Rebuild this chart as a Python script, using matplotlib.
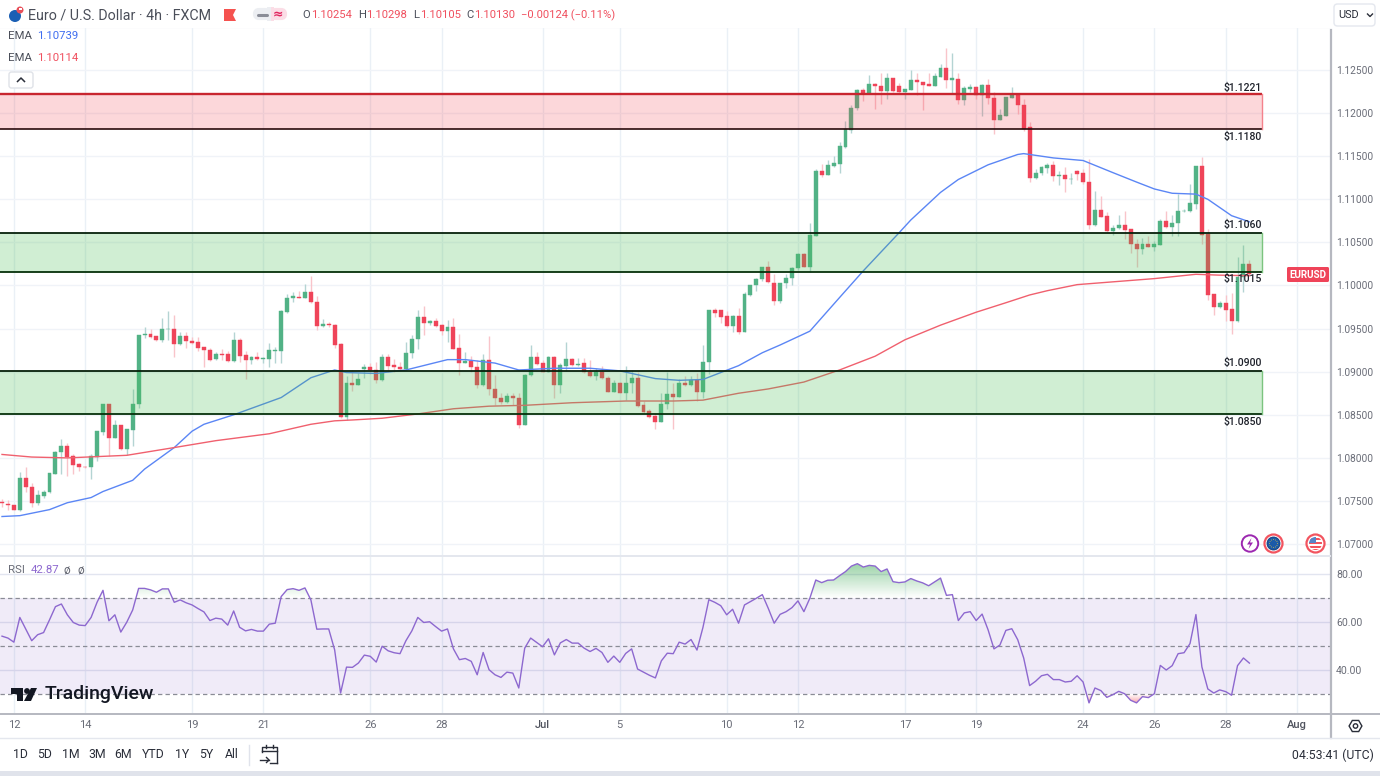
# coding: utf-8

import numpy as np
import matplotlib
matplotlib.use('Agg')
import matplotlib.pyplot as plt
from matplotlib.patches import Circle, FancyBboxPatch, Polygon, Rectangle, RegularPolygon, PathPatch
from matplotlib.path import Path

plt.rcParams['font.family'] = ['Roboto', 'DejaVu Sans']

# 4h candles
open_ = [
    1.0749, 1.0746, 1.0745, 1.0740, 1.0777, 1.0766, 1.0748, 1.0756, 1.0760, 1.0781,
    1.0807, 1.0814, 1.0802, 1.0793, 1.0790, 1.0789, 1.0801, 1.0830, 1.0862, 1.0823,
    1.0838, 1.0810, 1.0832, 1.0863, 1.0943, 1.0944, 1.0941, 1.0937, 1.0949, 1.0950,
    1.0932, 1.0941, 1.0936, 1.0934, 1.0929, 1.0925, 1.0915, 1.0920, 1.0920, 1.0912,
    1.0937, 1.0919, 1.0914, 1.0917, 1.0915, 1.0915, 1.0924, 1.0924, 1.0969, 1.0985,
    1.0987, 1.0985, 1.0992, 1.0981, 1.0953, 1.0955, 1.0954, 1.0932, 1.0848, 1.0887,
    1.0885, 1.0903, 1.0905, 1.0902, 1.0890, 1.0917, 1.0908, 1.0905, 1.0903, 1.0922,
    1.0938, 1.0964, 1.0957, 1.0959, 1.0954, 1.0947, 1.0952, 1.0927, 1.0910, 1.0912,
    1.0906, 1.0884, 1.0914, 1.0880, 1.0870, 1.0865, 1.0872, 1.0870, 1.0838, 1.0896,
    1.0917, 1.0910, 1.0900, 1.0917, 1.0885, 1.0907, 1.0915, 1.0908, 1.0910, 1.0900,
    1.0895, 1.0900, 1.0893, 1.0876, 1.0887, 1.0875, 1.0887, 1.0893, 1.0861, 1.0854,
    1.0849, 1.0842, 1.0863, 1.0874, 1.0871, 1.0887, 1.0884, 1.0890, 1.0876, 1.0911,
    1.0972, 1.0971, 1.0965, 1.0953, 1.0965, 1.0946, 1.0989, 1.1000, 1.1007, 1.1021,
    1.1003, 1.0982, 1.1003, 1.1009, 1.1020, 1.1037, 1.1022, 1.1058, 1.1133, 1.1128,
    1.1139, 1.1141, 1.1161, 1.1180, 1.1206, 1.1227, 1.1223, 1.1234, 1.1232, 1.1226,
    1.1241, 1.1232, 1.1225, 1.1227, 1.1238, 1.1236, 1.1234, 1.1232, 1.1242, 1.1252,
    1.1238, 1.1240, 1.1215, 1.1228, 1.1230, 1.1221, 1.1233, 1.1218, 1.1192, 1.1197,
    1.1218, 1.1222, 1.1209, 1.1184, 1.1125, 1.1130, 1.1136, 1.1140, 1.1127, 1.1128,
    1.1123, 1.1133, 1.1130, 1.1120, 1.1070, 1.1088, 1.1081, 1.1063, 1.1067, 1.1070,
    1.1065, 1.1048, 1.1042, 1.1048, 1.1045, 1.1047, 1.1075, 1.1068, 1.1072, 1.1086,
    1.1086, 1.1095, 1.1139, 1.1060, 1.0990, 1.0975, 1.0980, 1.0973, 1.0959, 1.1010, 1.10254,
]
high = [
    1.0752, 1.0751, 1.0745, 1.0784, 1.0789, 1.0771, 1.0763, 1.0763, 1.0782, 1.0808,
    1.0822, 1.0817, 1.0805, 1.0794, 1.0791, 1.0804, 1.0831, 1.0862, 1.0862, 1.0844,
    1.0838, 1.0833, 1.0880, 1.0943, 1.0952, 1.0949, 1.0941, 1.0962, 1.0970, 1.0966,
    1.0946, 1.0946, 1.0940, 1.0940, 1.0929, 1.0927, 1.0923, 1.0926, 1.0924, 1.0946,
    1.0939, 1.0924, 1.0918, 1.0923, 1.0917, 1.0933, 1.0929, 1.0972, 1.0990, 1.0992,
    1.0994, 1.1002, 1.1011, 1.0988, 1.0961, 1.0958, 1.0955, 1.0933, 1.0895, 1.0902,
    1.0898, 1.0909, 1.0910, 1.0911, 1.0920, 1.0920, 1.0915, 1.0911, 1.0935, 1.0943,
    1.0971, 1.0976, 1.0960, 1.0962, 1.0955, 1.0960, 1.0962, 1.0944, 1.0923, 1.0918,
    1.0914, 1.0921, 1.0941, 1.0896, 1.0875, 1.0875, 1.0875, 1.0875, 1.0897, 1.0931,
    1.0923, 1.0914, 1.0918, 1.0918, 1.0910, 1.0934, 1.0916, 1.0916, 1.0916, 1.0914,
    1.0904, 1.0907, 1.0895, 1.0890, 1.0888, 1.0907, 1.0902, 1.0900, 1.0866, 1.0857,
    1.0852, 1.0875, 1.0900, 1.0887, 1.0892, 1.0895, 1.0895, 1.0898, 1.0931, 1.0972,
    1.0974, 1.0971, 1.0970, 1.0966, 1.0974, 1.0993, 1.1001, 1.1009, 1.1022, 1.1029,
    1.1013, 1.1003, 1.1013, 1.1022, 1.1038, 1.1038, 1.1073, 1.1135, 1.1141, 1.1146,
    1.1150, 1.1167, 1.1191, 1.1209, 1.1228, 1.1229, 1.1244, 1.1235, 1.1246, 1.1246,
    1.1241, 1.1235, 1.1228, 1.1250, 1.1246, 1.1236, 1.1247, 1.1247, 1.1257, 1.1276,
    1.1270, 1.1246, 1.1231, 1.1234, 1.1231, 1.1234, 1.1240, 1.1225, 1.1205, 1.1219,
    1.1230, 1.1223, 1.1216, 1.1190, 1.1135, 1.1139, 1.1142, 1.1145, 1.1133, 1.1138,
    1.1131, 1.1134, 1.1135, 1.1147, 1.1110, 1.1104, 1.1085, 1.1070, 1.1082, 1.1087,
    1.1065, 1.1054, 1.1055, 1.1057, 1.1052, 1.1077, 1.1086, 1.1082, 1.1106, 1.1089,
    1.1118, 1.1139, 1.1149, 1.1065, 1.0990, 1.0982, 1.0989, 1.0991, 1.1033, 1.1047, 1.10298,
]
low = [
    1.0743, 1.0740, 1.0740, 1.0738, 1.0760, 1.0743, 1.0745, 1.0754, 1.0759, 1.0781,
    1.0781, 1.0779, 1.0781, 1.0785, 1.0788, 1.0775, 1.0796, 1.0826, 1.0802, 1.0823,
    1.0809, 1.0803, 1.0814, 1.0858, 1.0939, 1.0939, 1.0936, 1.0934, 1.0937, 1.0917,
    1.0931, 1.0928, 1.0932, 1.0924, 1.0906, 1.0912, 1.0914, 1.0913, 1.0911, 1.0911,
    1.0911, 1.0892, 1.0909, 1.0914, 1.0910, 1.0906, 1.0910, 1.0910, 1.0968, 1.0981,
    1.0985, 1.0985, 1.0980, 1.0948, 1.0952, 1.0952, 1.0928, 1.0846, 1.0844, 1.0878,
    1.0884, 1.0893, 1.0897, 1.0887, 1.0889, 1.0900, 1.0900, 1.0902, 1.0902, 1.0916,
    1.0926, 1.0942, 1.0954, 1.0952, 1.0942, 1.0935, 1.0926, 1.0896, 1.0910, 1.0900,
    1.0881, 1.0883, 1.0873, 1.0861, 1.0862, 1.0864, 1.0861, 1.0835, 1.0838, 1.0895,
    1.0908, 1.0900, 1.0900, 1.0870, 1.0875, 1.0901, 1.0907, 1.0907, 1.0898, 1.0894,
    1.0890, 1.0892, 1.0876, 1.0876, 1.0875, 1.0867, 1.0875, 1.0859, 1.0852, 1.0846,
    1.0834, 1.0842, 1.0857, 1.0834, 1.0871, 1.0883, 1.0883, 1.0866, 1.0870, 1.0897,
    1.0964, 1.0957, 1.0952, 1.0946, 1.0944, 1.0946, 1.0988, 1.0994, 1.1005, 1.1003,
    1.0977, 1.0980, 1.0997, 1.1000, 1.1018, 1.1021, 1.1016, 1.1058, 1.1126, 1.1128,
    1.1138, 1.1131, 1.1159, 1.1177, 1.1204, 1.1214, 1.1222, 1.1205, 1.1211, 1.1216,
    1.1225, 1.1223, 1.1216, 1.1227, 1.1221, 1.1204, 1.1232, 1.1231, 1.1242, 1.1229,
    1.1223, 1.1210, 1.1209, 1.1225, 1.1216, 1.1197, 1.1211, 1.1176, 1.1192, 1.1197,
    1.1217, 1.1199, 1.1179, 1.1120, 1.1124, 1.1128, 1.1131, 1.1121, 1.1117, 1.1108,
    1.1118, 1.1122, 1.1118, 1.1065, 1.1069, 1.1079, 1.1062, 1.1059, 1.1065, 1.1054,
    1.1038, 1.1021, 1.1036, 1.1045, 1.1040, 1.1047, 1.1067, 1.1058, 1.1057, 1.1085,
    1.1085, 1.1089, 1.1048, 1.0983, 1.0966, 1.0974, 1.0959, 1.0944, 1.0958, 1.0993, 1.10105,
]
close = [
    1.0748, 1.0745, 1.0740, 1.0777, 1.0766, 1.0748, 1.0757, 1.0760, 1.0782, 1.0807,
    1.0814, 1.0801, 1.0792, 1.0789, 1.0789, 1.0802, 1.0831, 1.0862, 1.0823, 1.0838,
    1.0810, 1.0833, 1.0863, 1.0943, 1.0944, 1.0940, 1.0937, 1.0949, 1.0950, 1.0932,
    1.0941, 1.0936, 1.0933, 1.0928, 1.0925, 1.0914, 1.0920, 1.0919, 1.0912, 1.0937,
    1.0918, 1.0914, 1.0917, 1.0915, 1.0916, 1.0925, 1.0925, 1.0970, 1.0985, 1.0988,
    1.0985, 1.0992, 1.0981, 1.0953, 1.0955, 1.0954, 1.0931, 1.0848, 1.0887, 1.0885,
    1.0891, 1.0905, 1.0902, 1.0890, 1.0917, 1.0907, 1.0905, 1.0903, 1.0922, 1.0938,
    1.0964, 1.0957, 1.0959, 1.0953, 1.0947, 1.0952, 1.0926, 1.0910, 1.0912, 1.0905,
    1.0884, 1.0914, 1.0880, 1.0869, 1.0865, 1.0872, 1.0869, 1.0838, 1.0896, 1.0917,
    1.0909, 1.0900, 1.0917, 1.0885, 1.0908, 1.0915, 1.0908, 1.0909, 1.0900, 1.0895,
    1.0900, 1.0893, 1.0876, 1.0887, 1.0875, 1.0887, 1.0893, 1.0860, 1.0853, 1.0848,
    1.0842, 1.0863, 1.0874, 1.0871, 1.0887, 1.0884, 1.0890, 1.0876, 1.0911, 1.0971,
    1.0968, 1.0964, 1.0953, 1.0965, 1.0946, 1.0990, 1.1001, 1.1007, 1.1021, 1.1004,
    1.0982, 1.1003, 1.1009, 1.1020, 1.1037, 1.1022, 1.1059, 1.1133, 1.1128, 1.1140,
    1.1142, 1.1162, 1.1181, 1.1206, 1.1227, 1.1223, 1.1234, 1.1232, 1.1226, 1.1241,
    1.1226, 1.1225, 1.1228, 1.1238, 1.1236, 1.1233, 1.1232, 1.1243, 1.1252, 1.1238,
    1.1241, 1.1215, 1.1229, 1.1230, 1.1221, 1.1233, 1.1217, 1.1192, 1.1198, 1.1219,
    1.1222, 1.1209, 1.1182, 1.1125, 1.1130, 1.1138, 1.1140, 1.1127, 1.1128, 1.1123,
    1.1124, 1.1129, 1.1120, 1.1070, 1.1088, 1.1080, 1.1063, 1.1067, 1.1070, 1.1064,
    1.1048, 1.1042, 1.1048, 1.1045, 1.1048, 1.1075, 1.1068, 1.1072, 1.1086, 1.1087,
    1.1096, 1.1139, 1.1059, 1.0989, 1.0975, 1.0980, 1.0972, 1.0959, 1.1010, 1.1025, 1.10130,
]

# EMA lines, read at a number of bars (bar numbers count from 1)
ema_fast_bars = [1, 4, 9, 12, 16, 18, 23, 25, 30, 33, 35, 40, 44, 48, 53, 57, 59, 64, 69, 76, 79, 84, 88,
                 94, 100, 105, 111, 115, 119, 125, 129, 132, 137, 142, 146, 152, 154, 159, 162, 167, 172,
                 173, 178, 183, 188, 192, 195, 198, 202, 204, 208, 211]
ema_fast = [1.0732, 1.0733, 1.0740, 1.0748, 1.0754, 1.0761, 1.0774, 1.0787, 1.0812, 1.0831, 1.0839, 1.0850,
            1.0860, 1.0870, 1.0893, 1.0902, 1.0899, 1.0898, 1.0902, 1.0914, 1.0914, 1.0910, 1.0902,
            1.0904, 1.0904, 1.0901, 1.0892, 1.0890, 1.0891, 1.0907, 1.0922, 1.0931, 1.0947, 1.0986,
            1.1017, 1.1061, 1.1076, 1.1108, 1.1123, 1.1140, 1.1152, 1.1153, 1.1148, 1.1145, 1.1131,
            1.1120, 1.1112, 1.1107, 1.1106, 1.1100, 1.1081, 1.10739]
ema_slow_bars = [1, 6, 12, 22, 30, 37, 46, 53, 57, 60, 65, 71, 77, 83, 89, 97, 106, 114, 119, 125, 130, 136,
                 142, 148, 153, 159, 165, 170, 174, 177, 182, 195, 202, 206, 211]
ema_slow = [1.0804, 1.0801, 1.0800, 1.0803, 1.0812, 1.0820, 1.0828, 1.0839, 1.0843, 1.0844, 1.0846, 1.0851,
            1.0857, 1.0860, 1.0861, 1.0864, 1.0866, 1.0866, 1.0867, 1.0875, 1.0880, 1.0888, 1.0902,
            1.0918, 1.0937, 1.0954, 1.0969, 1.0980, 1.0989, 1.0994, 1.1001, 1.1008, 1.1013, 1.1012, 1.10114]

rsi = [
    54.1, 53.3, 51.6, 61.9, 57.1, 52.2, 54.7, 55.6, 60.9, 66.4,
    67.5, 63.0, 59.8, 58.7, 58.5, 61.9, 68.2, 73.2, 60.5, 63.0,
    55.8, 59.9, 65.0, 74.0, 74.0, 73.4, 72.4, 73.8, 73.8, 68.2,
    69.2, 68.0, 67.1, 65.6, 64.2, 60.6, 61.6, 61.2, 58.7, 64.6,
    57.8, 56.3, 56.9, 56.2, 56.2, 59.1, 59.5, 70.6, 73.5, 73.9,
    73.2, 74.2, 69.2, 57.0, 57.1, 57.1, 48.4, 30.4, 41.2, 41.1,
    42.9, 46.2, 45.7, 43.3, 49.9, 48.0, 47.2, 46.8, 52.2, 56.3,
    61.9, 59.8, 60.1, 58.1, 56.2, 57.1, 48.8, 44.3, 44.8, 43.6,
    38.0, 47.3, 40.1, 38.0, 36.9, 39.1, 38.7, 32.5, 49.1, 53.3,
    51.5, 49.7, 53.0, 46.3, 51.3, 52.7, 51.2, 51.2, 49.1, 47.7,
    49.0, 47.3, 43.2, 45.8, 43.2, 46.9, 48.8, 40.4, 39.1, 37.8,
    36.7, 43.8, 47.0, 46.8, 51.6, 50.8, 52.7, 48.3, 57.7, 69.3,
    68.2, 66.8, 63.0, 65.3, 59.5, 67.1, 68.5, 69.9, 71.4, 65.7,
    59.5, 63.2, 64.3, 66.0, 68.8, 64.3, 69.9, 77.5, 76.4, 77.4,
    77.5, 79.3, 81.0, 83.3, 84.3, 82.9, 83.6, 83.3, 81.0, 82.1,
    76.8, 76.4, 76.7, 78.1, 77.1, 76.3, 75.1, 76.7, 78.3, 71.1,
    71.4, 60.6, 63.8, 64.3, 60.6, 63.3, 56.8, 48.8, 50.4, 56.5,
    57.2, 52.6, 45.0, 33.5, 35.3, 37.6, 38.2, 36.0, 36.0, 35.0,
    35.3, 37.6, 35.0, 26.3, 32.5, 31.4, 28.6, 29.7, 31.1, 30.1,
    27.4, 26.3, 28.9, 28.5, 30.1, 41.9, 40.0, 41.8, 46.8, 47.2,
    51.0, 63.1, 41.3, 32.1, 30.4, 31.7, 31.0, 29.5, 41.8, 45.0, 42.87,
]

# support / resistance zones: (top, bottom), and their printed levels
red_zone = (1.1222, 1.1181)
green_zones = [(1.1061, 1.1016), (1.0901, 1.0851)]
zone_labels = ['$1.1221', '$1.1180', '$1.1060', '$1.1015', '$1.0900', '$1.0850']
zone_label_prices = [1.1229, 1.1172, 1.1070, 1.1008, 1.0910, 1.0842]

price_ticks = [1.07, 1.075, 1.08, 1.085, 1.09, 1.095, 1.10, 1.105, 1.11, 1.115, 1.12, 1.125]
grid_extra = [1.13]
rsi_ticks = [80, 60, 40]
rsi_bands = [70, 50, 30]
date_bars = [2, 14, 32, 44, 62, 74, 91, 104, 122, 134, 152, 164, 182, 194, 206, 218]
date_labels = ['12', '14', '19', '21', '26', '28', 'Jul', '5', '10', '12', '17', '19', '24', '26', '28', 'Aug']
range_labels = ['1D', '5D', '1M', '3M', '6M', 'YTD', '1Y', '5Y', 'All']
range_pos = [20, 45, 71, 97, 123, 153, 182, 206, 232]

W, H = 1380, 776
BAR_PX = 5.94
GREEN = '#52b286'
RED = '#ef4459'
GREEN_WICK = '#b4d4d3'
RED_WICK = '#f9c4ca'
GRID_H = '#f0f3f8'
GRID_V = '#eaf0f6'
TXT = '#4a4e59'
AXIS_TXT = '#6a6d78'
BLUE = '#5b86f5'
EMA_RED = '#f0606e'
PURPLE = '#8d68cf'


def axes_box(left, top, right, bottom):
    return [left / W, 1 - bottom / H, (right - left) / W, (bottom - top) / H]


def bar_limits():
    # pixel 2 is the centre of the first bar
    return (0 - 2) / BAR_PX, (1330 - 2) / BAR_PX


def style_axes(ax):
    ax.set_xlim(*bar_limits())
    for s in ax.spines.values():
        s.set_visible(False)
    ax.tick_params(length=0)
    ax.set_xticks(date_bars)
    ax.set_xticklabels([])
    ax.yaxis.tick_right()
    for x in date_bars:
        ax.axvline(x, color=GRID_V, lw=1, zorder=0)


def draw_candles(ax):
    o = np.array(open_)
    c = np.array(close)
    x = np.arange(len(o))
    up = c >= o
    ax.vlines(x[up], np.array(low)[up], np.array(high)[up], color=GREEN_WICK, lw=1, zorder=2)
    ax.vlines(x[~up], np.array(low)[~up], np.array(high)[~up], color=RED_WICK, lw=1, zorder=2)
    ax.bar(x[up], (c - o)[up], bottom=o[up], width=0.66, color=GREEN, lw=0.3, edgecolor=GREEN, zorder=3)
    ax.bar(x[~up], (o - c)[~up], bottom=c[~up], width=0.66, color=RED, lw=0.3, edgecolor=RED, zorder=3)


def draw_zones(ax):
    right = (1262 - 2) / BAR_PX
    left = bar_limits()[0]
    ax.fill_between([left, right], red_zone[1], red_zone[0], color='#f03746', alpha=0.2, lw=0, zorder=5)
    ax.plot([left, right], [red_zone[0], red_zone[0]], color='#c8262f', lw=1.7, zorder=6, solid_capstyle='butt')
    ax.plot([left, right], [red_zone[1], red_zone[1]], color='#2a0a0c', lw=1.2, zorder=6, solid_capstyle='butt')
    ax.plot([right, right], list(red_zone), color='#f4828c', lw=1, zorder=6)
    for top, bottom in green_zones:
        ax.fill_between([left, right], bottom, top, color='#4abe56', alpha=0.26, lw=0, zorder=5)
        ax.plot([left, right], [top, top], color='#06200a', lw=1.3, zorder=6, solid_capstyle='butt')
        ax.plot([left, right], [bottom, bottom], color='#06300a', lw=1.3, zorder=6, solid_capstyle='butt')
        ax.plot([right, right], [top, bottom], color='#7cc47f', lw=1, zorder=6)
    for txt, y in zip(zone_labels, zone_label_prices):
        ax.text(right, y, txt, ha='right', va='center', fontsize=7.6, color='#1f222b', zorder=7,
                fontweight='medium')


def gradient_fill(ax, x, y, level, colour, above=True):
    # colour fades out towards the band line
    where = y > level if above else y < level
    coll = ax.fill_between(x, level, y, where=where, interpolate=True, color='none', lw=0)
    paths = coll.get_paths()
    coll.remove()
    if not paths:
        return
    lim = y.max() if above else y.min()
    shade = np.linspace(0, 1, 64).reshape(-1, 1)
    rgba = np.zeros((64, 1, 4))
    rgba[:, :, :3] = matplotlib.colors.to_rgb(colour)
    rgba[:, :, 3] = shade * 0.45
    ext = (x[0], x[-1], min(level, lim), max(level, lim))
    img = ax.imshow(rgba if above else rgba[::-1], origin='lower', extent=ext, aspect='auto', zorder=2)
    patch = PathPatch(Path.make_compound_path(*paths), transform=ax.transData, facecolor='none', edgecolor='none')
    ax.add_patch(patch)
    img.set_clip_path(patch)


def draw_rsi(ax):
    x = np.arange(len(rsi))
    y = np.array(rsi)
    ax.set_ylim(22.08, 87.5)
    ax.set_yticks(rsi_ticks)
    ax.set_yticklabels(['%.2f' % v for v in rsi_ticks], fontsize=7.6, color=AXIS_TXT)
    ax.tick_params(axis='y', pad=4.5)
    for v in rsi_ticks:
        ax.axhline(v, color='#e2e5f0', lw=1, zorder=1)
    ax.axhspan(rsi_bands[2], rsi_bands[0], color='#7e57c2', alpha=0.115, lw=0, zorder=1)
    for v in rsi_bands:
        ax.axhline(v, color='#8a8c96', lw=0.9, dashes=(3.5, 2.5), zorder=2)
    gradient_fill(ax, x, y, 70, '#1f9c3a', above=True)
    gradient_fill(ax, x, y, 30, '#f23645', above=False)
    ax.plot(x, y, color=PURPLE, lw=1.0, zorder=4)
    ax.set_xlim(*bar_limits())
    ax.set_ylim(22.08, 87.5)


def draw_overlay(fig):
    ov = fig.add_axes([0, 0, 1, 1], zorder=10)
    ov.set_xlim(0, W)
    ov.set_ylim(H, 0)
    ov.axis('off')
    ov.patch.set_alpha(0)

    def t(x, y, s, size=8.2, color=TXT, ha='left', **kw):
        return ov.text(x, y, s, fontsize=size, color=color, ha=ha, va='center', **kw)

    # frame lines
    ov.plot([1330.5, 1330.5], [30, 738], color='#b6b8c0', lw=1.6)
    ov.plot([0, 1330], [555.5, 555.5], color='#e4e7ee', lw=1.4)
    ov.plot([0, 1380], [713.5, 713.5], color='#b6b8c0', lw=1.4)
    ov.plot([0, 1380], [737.5, 737.5], color='#e4e7ee', lw=1)
    ov.add_patch(Rectangle((0, 771), W, 5, color='#e0e3eb', lw=0))

    # header
    ov.add_patch(Circle((15, 16), 6, color='#1a5fb4', lw=0))
    ov.add_patch(Circle((20, 10), 3.5, color='#e8505b', lw=0))
    ov.add_patch(Rectangle((19, 8), 3, 2, color='white', lw=0))
    t(28, 15, 'Euro / U.S. Dollar · 4h · FXCM', size=10.3)
    ov.add_patch(Polygon([(224, 9), (236, 9), (233, 15), (236, 21), (224, 21)], color='#f5524f', lw=0))
    ov.add_patch(FancyBboxPatch((255, 10), 14, 8, boxstyle='round,pad=0,rounding_size=4', color='#eceef2', lw=3))
    ov.add_patch(FancyBboxPatch((272, 10), 13, 8, boxstyle='round,pad=0,rounding_size=4', color='#fbdde6', lw=3))
    ov.add_patch(Rectangle((267, 7), 3.5, 14, color='#eceef2', lw=0))
    ov.add_patch(Rectangle((270.5, 7), 3.5, 14, color='#fbdde6', lw=0))
    ov.plot([257.5, 266.5], [15, 15], color='#8a8d97', lw=2.2, solid_capstyle='round')
    t(278, 15, '≈', size=9, color='#e0245e', ha='center', family=['DejaVu Sans'], fontweight='bold')

    ohlc_red = '#f0505f'
    xs = [302, 311, 358, 366, 413, 420, 466, 474, 521]
    vals = ['O', '1.10254', 'H', '1.10298', 'L', '1.10105', 'C', '1.10130', '−0.00124 (−0.11%)']
    for i, (xp, s) in enumerate(zip(xs, vals)):
        t(xp, 15, s, size=8.1, color=TXT if i % 2 == 0 and i < 8 else ohlc_red)

    t(8, 36, 'EMA', size=8.2)
    t(37, 36, '1.10739', size=8.2, color='#3f6df0')
    t(8, 58, 'EMA', size=8.2)
    t(37, 58, '1.10114', size=8.2, color=ohlc_red)
    ov.add_patch(FancyBboxPatch((9, 72), 24, 16, boxstyle='round,pad=0,rounding_size=2.5', fc='white',
                                ec='#dfe2e8', lw=1))
    ov.plot([17.5, 21, 24.5], [81.5, 78, 81.5], color='#2a2e39', lw=1.1)

    # currency box
    ov.add_patch(FancyBboxPatch((1334, 4), 41, 22, boxstyle='round,pad=0,rounding_size=3.5', fc='white',
                                ec='#e4e7ee', lw=1))
    t(1338, 15, 'USD', size=7.8, color='#2a2e39')
    ov.plot([1367.5, 1370, 1372.5], [14, 16.5, 14], color='#2a2e39', lw=1)

    # rsi legend
    t(8, 570, 'RSI', size=8.2, color=AXIS_TXT)
    t(31, 570, '42.87', size=8.2, color=PURPLE)
    t(64, 570, 'ø', size=8.6, color=AXIS_TXT)
    t(77, 570, 'ø', size=8.6, color=AXIS_TXT)

    # TradingView mark
    ov.add_patch(Polygon([(11, 688), (23, 688), (23, 701), (17, 701), (17, 694), (11, 694)], color='#131722', lw=0))
    ov.add_patch(Circle((27, 691), 2.9, color='#131722', lw=0))
    ov.add_patch(Polygon([(31, 688), (37, 688), (31, 701), (24, 701)], color='#131722', lw=0))
    t(45, 694, 'TradingView', size=14, color='#131722', fontweight='medium')

    # event markers
    ov.add_patch(Circle((1250, 543.5), 8.2, fc='white', ec='#9c27b0', lw=1.4))
    ov.add_patch(Polygon([(1251.5, 538), (1247, 544.5), (1250, 544.5), (1248.5, 549), (1253, 542.5),
                          (1250, 542.5)], color='#9c27b0', lw=0))
    ov.add_patch(Circle((1273.5, 543.5), 9, fc='white', ec='#f2545f', lw=1.6))
    ov.add_patch(Circle((1273.5, 543.5), 6.5, fc='#1b5aa8', ec='#103a75', lw=0.6))
    for a in np.linspace(0, 2 * np.pi, 12, endpoint=False):
        ov.add_patch(Circle((1273.5 + 4 * np.cos(a), 543.5 + 4 * np.sin(a)), 0.45, color='#e8c43a', lw=0))
    ov.add_patch(Circle((1315.5, 543.5), 9, fc='white', ec='#f2545f', lw=1.6))
    flag = Circle((1315.5, 543.5), 6.5, fc='white', lw=0)
    ov.add_patch(flag)
    for yy in [538, 542, 546, 549]:
        r = ov.add_patch(Rectangle((1309, yy), 13, 1.8, color='#f2545f', lw=0))
        r.set_clip_path(flag)
    c = ov.add_patch(Rectangle((1309, 537), 7, 6, color='#5585c9', lw=0))
    c.set_clip_path(flag)

    # EURUSD price tag
    ov.add_patch(FancyBboxPatch((1287, 267), 42, 15, boxstyle='round,pad=0,rounding_size=1.5', color='#ef4459',
                                lw=0))
    t(1308, 274.5, 'EURUSD', size=7.1, color='white', ha='center', fontweight='bold')

    # settings hexagon
    ov.add_patch(RegularPolygon((1355.5, 726), 6, radius=6.4, orientation=np.pi / 2, fc='white',
                                ec='#2a2e39', lw=1))
    ov.add_patch(Circle((1355.5, 726), 2.2, fc='white', ec='#2a2e39', lw=1))

    # date labels
    for b, s in zip(date_bars, date_labels):
        t(2 + b * BAR_PX, 725, s, size=8, color=AXIS_TXT if s not in ('Jul', 'Aug') else '#50535e', ha='center',
          fontweight='medium' if s in ('Jul', 'Aug') else 'normal')

    # bottom toolbar
    for xp, s in zip(range_pos, range_labels):
        t(xp, 755, s, size=8.8, color='#2a2e39', ha='center')
    ov.plot([248.5, 248.5], [745, 765], color='#e0e3eb', lw=1)
    ov.plot([262, 262, 277, 277], [752, 747, 747, 763], color='#2a2e39', lw=1)
    ov.plot([262, 277], [751, 751], color='#2a2e39', lw=1)
    ov.plot([266, 266], [745, 748], color='#2a2e39', lw=1)
    ov.plot([273, 273], [745, 748], color='#2a2e39', lw=1)
    ov.plot([270, 277], [763, 763], color='#2a2e39', lw=1)
    ov.plot([260, 269], [760, 760], color='#2a2e39', lw=1)
    ov.plot([266.5, 269, 266.5], [757.5, 760, 762.5], color='#2a2e39', lw=1)
    t(1374, 755, '04:53:41 (UTC)', size=8.8, color='#2a2e39', ha='right')


if __name__ == '__main__':

    fig = plt.figure(figsize=(W / 100, H / 100), dpi=100, facecolor='white')

    ax = fig.add_axes(axes_box(0, 28, 1330, 555))
    style_axes(ax)
    ax.set_ylim(1.125 - 485 / 8620, 1.125 + 42 / 8620)
    ax.set_yticks(price_ticks)
    ax.set_yticklabels(['%.5f' % v for v in price_ticks], fontsize=7.3, color=AXIS_TXT)
    ax.tick_params(axis='y', pad=4.5)
    for v in price_ticks + grid_extra:
        ax.axhline(v, color=GRID_H, lw=1, zorder=0)

    draw_candles(ax)
    ax.plot(np.array(ema_fast_bars) - 1, ema_fast, color=BLUE, lw=1.0, zorder=4)
    ax.plot(np.array(ema_slow_bars) - 1, ema_slow, color=EMA_RED, lw=1.0, zorder=4)
    draw_zones(ax)

    ax2 = fig.add_axes(axes_box(0, 556, 1330, 713))
    style_axes(ax2)
    draw_rsi(ax2)

    draw_overlay(fig)

    fig.savefig('out.png', dpi=100)
